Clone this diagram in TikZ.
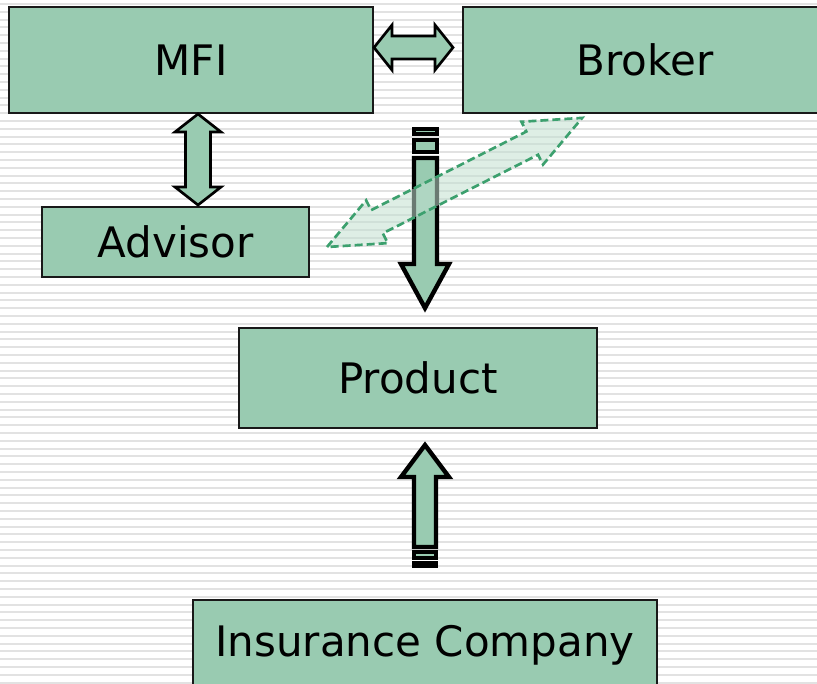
\documentclass[tikz,border=0pt]{standalone}
\usepackage{fontspec}
\setmainfont{DejaVu Sans}
\definecolor{boxgreen}{RGB}{153,203,177}
\definecolor{dashgreen}{RGB}{60,160,110}
\definecolor{stripegray}{RGB}{226,226,226}
\begin{document}
\begin{tikzpicture}[x=0.75pt,y=-0.75pt,
  box/.style={draw=black!90,line width=1.5pt,fill=boxgreen,font=\fontsize{31.5}{38}\selectfont},
  blockarrow/.style={draw=black,line width=2pt,fill=boxgreen,line join=miter},
  stripedarrow/.style={draw=black,line width=3.3pt,fill=boxgreen,line join=miter},
  dasharrow/.style={draw=dashgreen,line width=2pt,dash pattern=on 6pt off 3pt,fill=boxgreen!60,fill opacity=0.55}]
\useasboundingbox (0,0) rectangle (817,683);
\foreach \y in {3,10.8,...,683} \fill[stripegray] (0,\y) rectangle (817,\y+2);

\node[box,minimum width=273pt,minimum height=79.5pt] (mfi) at (191,60) {MFI};
\node[box,minimum width=273pt,minimum height=79.5pt] (broker) at (645,60) {Broker};
\node[box,minimum width=200.25pt,minimum height=52.5pt] (advisor) at (175.5,242) {Advisor};
\node[box,minimum width=268.5pt,minimum height=75pt] (product) at (418,378) {Product};
\node[box,minimum width=348pt,minimum height=67.5pt] (insurer) at (425,645) {Insurance Company};

\draw[blockarrow] (374,47.5) -- (392,25) -- (392,36) -- (435,36) -- (435,25) -- (453,47.5)
  -- (435,70) -- (435,59) -- (392,59) -- (392,70) -- cycle;
\draw[blockarrow] (198,114) -- (221,132) -- (210.5,132) -- (210.5,187) -- (221,187) -- (198,205)
  -- (175,187) -- (185.5,187) -- (185.5,132) -- (175,132) -- cycle;

\draw[stripedarrow] (414,129) rectangle (437,134);
\draw[stripedarrow] (414,140) rectangle (437,152);
\draw[stripedarrow] (414,158) -- (437,158) -- (437,264) -- (449,264) -- (425,308)
  -- (401,264) -- (414,264) -- cycle;

\draw[stripedarrow] (425,445) -- (449,477) -- (436,477) -- (436,547) -- (414,547)
  -- (414,477) -- (401,477) -- cycle;
\draw[stripedarrow] (414,552) rectangle (436,558);
\draw[stripedarrow] (414,563) rectangle (436,566);

\begin{scope}[shift={(327,247)},rotate=26.84]
\draw[dasharrow] (0,0) -- (56,-24) -- (56,-13) -- (230,-13) -- (230,-24) -- (286,0)
  -- (230,24) -- (230,13) -- (56,13) -- (56,24) -- cycle;
\end{scope}
\end{tikzpicture}
\end{document}
